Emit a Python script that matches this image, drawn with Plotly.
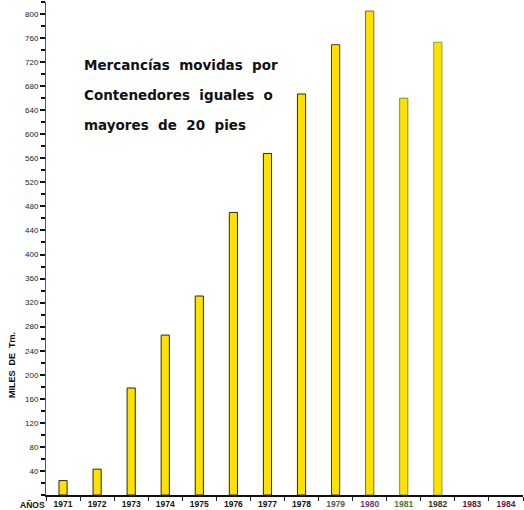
import plotly.graph_objects as go

years = ["1971", "1972", "1973", "1974", "1975", "1976", "1977",
         "1978", "1979", "1980", "1981", "1982", "1983", "1984"]
values = [24, 43, 178, 266, 331, 470, 568, 667, 749, 805, 660, 753, None, None]
outline_colors = ["#2a2a1a"] * 8 + ["#4a4020", "#7a6a30", "#6a9a30", "#7aaa40", "#333", "#333"]
label_colors = ["#111"] * 8 + ["#555", "#6a3a7a", "#3a7a3a", "#1f3a1f", "#6a1030", "#6a1050"]
y_ticks = list(range(40, 801, 40))
title_lines = [["Mercancías", "movidas", "por"], ["Contenedores", "iguales", "o"], ["mayores", "de", "20", "pies"]]

GAP = "\u00a0\u00a0"
ticktext = [f"<span style='color:{c}'><b>{y}</b></span>" for y, c in zip(years, label_colors)]

fig = go.Figure()
fig.add_trace(go.Bar(
    x=years, y=values, width=0.24,
    marker=dict(color="#FFE100", line=dict(color=outline_colors, width=1)),
))

fig.update_layout(
    width=524, height=510,
    margin=dict(l=46, r=1, t=2, b=15),
    paper_bgcolor="white", plot_bgcolor="white",
    showlegend=False,
    font=dict(family="Liberation Sans, Arial, sans-serif", color="#111"),
)
fig.update_xaxes(
    type="category", categoryorder="array", categoryarray=years,
    tickmode="array", tickvals=years, ticktext=ticktext,
    tickson="boundaries", ticks="outside", ticklen=4, tickwidth=1, tickcolor="#222",
    showline=True, linecolor="#111", linewidth=1.5,
    showgrid=False, zeroline=False, automargin=False,
    tickfont=dict(size=8.5), range=[-0.5, 13.5],
)
fig.update_yaxes(
    range=[0, 820], tickmode="array", tickvals=y_ticks,
    ticktext=[str(v) for v in y_ticks],
    ticks="outside", ticklen=5, tickwidth=2, tickcolor="#111",
    minor=dict(tickmode="linear", tick0=0, dtick=20, ticks="outside", ticklen=4, tickwidth=2, tickcolor="#111"),
    showline=True, linecolor="#555", linewidth=1,
    showgrid=False, zeroline=False, automargin=False,
    tickfont=dict(size=8, color="#222"),
)

for i, words in enumerate(title_lines):
    fig.add_annotation(
        text="<b>" + GAP.join(words) + "</b>", xref="paper", yref="paper",
        x=(82 - 46) / 477, y=1 - ((65 + 30 * i) - 2) / 493,
        xanchor="left", yanchor="middle", showarrow=False,
        font=dict(size=13.5, color="#111", family="DejaVu Sans, sans-serif"),
    )

fig.add_annotation(
    text="<b>MILES\u00a0\u00a0DE\u00a0\u00a0Tm.</b>", xref="paper", yref="paper",
    x=(12 - 46) / 477, y=1 - (365 - 2) / 493, textangle=-90,
    xanchor="center", yanchor="middle", showarrow=False,
    font=dict(size=9, color="#111"),
)
fig.add_annotation(
    text="<b>AÑOS</b>", xref="paper", yref="paper",
    x=(32 - 46) / 477, y=1 - (505 - 2) / 493,
    xanchor="center", yanchor="middle", showarrow=False,
    font=dict(size=8.5, color="#111"),
)

fig.write_html(
    "out.html",
    config={"displayModeBar": False},
    post_script="document.body.style.margin='0';document.body.style.overflow='hidden';",
)
